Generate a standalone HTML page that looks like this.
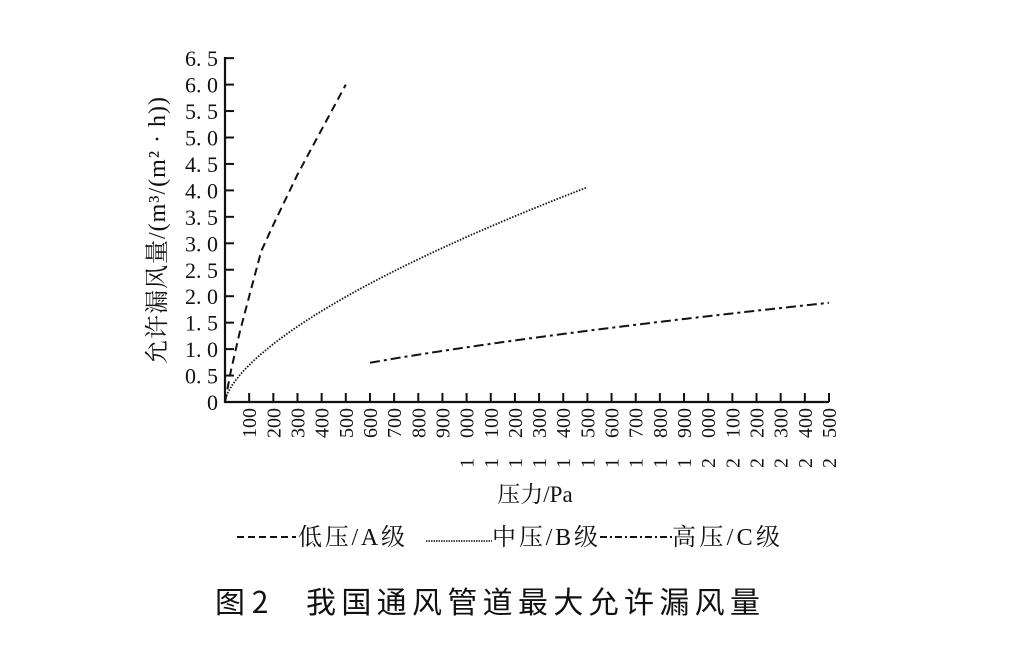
<!DOCTYPE html>
<html><head><meta charset="utf-8"><style>
html,body{margin:0;padding:0;background:#fff;}
svg{display:block;}
text{fill:#111;}
</style></head><body>
<svg id="s" width="1023" height="668" xmlns="http://www.w3.org/2000/svg">
<g font-family="Liberation Serif, Noto Serif CJK SC, serif" font-size="22" text-anchor="end" id="yl"></g>
<g id="xl" font-family="Liberation Serif, serif" font-size="20"></g>
<line x1="225" y1="57" x2="225" y2="403" stroke="#111" stroke-width="2.2"/>
<line x1="224" y1="402" x2="829" y2="402" stroke="#111" stroke-width="2.2"/>
<g id="tk" stroke="#111" stroke-width="2"></g>
<path id="pa" fill="none" stroke="#111" stroke-width="2" stroke-dasharray="8,5"/>
<path id="pb" fill="none" stroke="#111" stroke-width="1.8" stroke-dasharray="1.5,1.5"/>
<path id="pc" fill="none" stroke="#111" stroke-width="2" stroke-dasharray="10,4,3,4"/>
<text transform="translate(165,230) rotate(-90)" text-anchor="middle" font-family="Liberation Serif, Noto Serif CJK SC, serif" font-size="24" letter-spacing="1">允许漏风量/(m³/(m² · h))</text>
<text x="535" y="502" text-anchor="middle" font-family="Liberation Serif, Noto Serif CJK SC, serif" font-size="23">压力/Pa</text>
<g font-family="Liberation Serif, Noto Serif CJK SC, serif" font-size="24">
<line x1="237" y1="537" x2="296" y2="537" stroke="#111" stroke-width="2" stroke-dasharray="7,4"/>
<text x="298" y="545" textLength="107">低压/A级</text>
<line x1="426" y1="541" x2="492" y2="541" stroke="#111" stroke-width="1.5" stroke-dasharray="1.5,1"/>
<text x="492" y="545" textLength="106">中压/B级</text>
<line x1="600" y1="537" x2="672" y2="537" stroke="#111" stroke-width="2" stroke-dasharray="7,3,2,3"/>
<text x="672" y="545" textLength="108">高压/C级</text>
</g>
<text x="215" y="613" font-family="Noto Sans CJK SC, sans-serif" font-size="30">图 2</text>
<text x="306" y="613" font-family="Noto Sans CJK SC, sans-serif" font-size="30" textLength="454">我国通风管道最大允许漏风量</text>
</svg>
<script>
var NS="http://www.w3.org/2000/svg";
function X(p){return 225+p*0.2416;} function Y(v){return 402-v*52.9;}
var yl=document.getElementById('yl'),tk=document.getElementById('tk'),xl=document.getElementById('xl');
for(var i=0;i<=13;i++){var v=i*0.5,y=Y(v);
 var t=document.createElementNS(NS,'text');t.setAttribute('x',218);t.setAttribute('y',y+8);
 t.textContent=i==0?'0':v.toFixed(1).replace('.','. ');yl.appendChild(t);
 if(i>0){var l=document.createElementNS(NS,'line');l.setAttribute('x1',225);l.setAttribute('x2',234);l.setAttribute('y1',y);l.setAttribute('y2',y);tk.appendChild(l);}}
for(var p=100;p<=2500;p+=100){var x=X(p);
 var l=document.createElementNS(NS,'line');l.setAttribute('x1',x);l.setAttribute('x2',x);l.setAttribute('y1',393);l.setAttribute('y2',402);tk.appendChild(l);
 var s=p>=1000?(Math.floor(p/1000)+'\u2002\u2002'+String(p%1000).padStart(3,'0')):String(p);
 var t=document.createElementNS(NS,'text');t.setAttribute('transform','translate('+(x+7)+',408) rotate(-90)');t.setAttribute('text-anchor','end');t.textContent=s;xl.appendChild(t);}
function path(id,c,a,b){var d='';for(var p=a;p<=b;p+=5){d+=(d?'L':'M')+X(p).toFixed(1)+','+Y(c*Math.pow(p,0.65)).toFixed(1);}document.getElementById(id).setAttribute('d',d);}
var A=[[0,0],[25,0.6],[60,1.3],[100,2.0],[150,2.85],[200,3.35],[300,4.3],[400,5.15],[500,6.0]];
document.getElementById('pa').setAttribute('d',A.map(function(q,i){return (i?'L':'M')+X(q[0]).toFixed(1)+','+Y(q[1]).toFixed(1);}).join(''));
path('pb',0.035,0,1500);path('pc',0.0116,600,2500);
</script>
</body></html>
